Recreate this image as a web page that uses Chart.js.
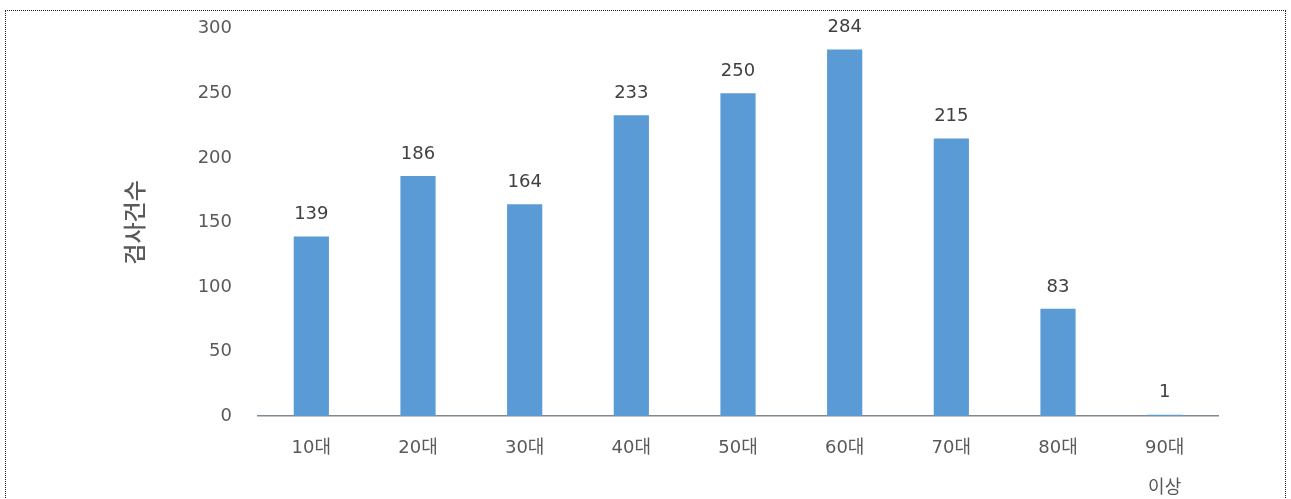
<!DOCTYPE html>
<html>
<head>
<meta charset="utf-8">
<script src="https://cdn.jsdelivr.net/npm/chart.js@4"></script>
<style>
  html, body { margin: 0; padding: 0; background: #fff; }
  #wrap { position: relative; width: 1291px; height: 499px; overflow: hidden; }
  #frame { position: absolute; left: 5px; top: 10px; width: 1281px; height: 520px; border: 1px dotted #222; box-sizing: border-box; }
  #chart { position: absolute; left: 0; top: 0; }
</style>
</head>
<body>
<div id="wrap">
  <div id="frame"></div>
  <canvas id="chart" width="1291" height="499"></canvas>
</div>
<script>
// Data
const ageGroups = ['10대', '20대', '30대', '40대', '50대', '60대', '70대', '80대', ['90대', '이상']];
const testCounts = [139, 186, 164, 233, 250, 284, 215, 83, 1];
const yTicks = [0, 50, 100, 150, 200, 250, 300];

const fontFamily = "'DejaVu Sans', 'Noto Sans CJK KR', sans-serif";

// draws the value above each bar
const barValueLabels = {
    id: 'barValueLabels',
    afterDatasetsDraw(chart) {
        const ctx = chart.ctx;
        const meta = chart.getDatasetMeta(0);
        ctx.save();
        ctx.font = '18px ' + fontFamily;
        ctx.fillStyle = '#404040';
        ctx.textAlign = 'center';
        ctx.textBaseline = 'middle';
        meta.data.forEach((bar, i) => {
            ctx.fillText(String(testCounts[i]), bar.x, bar.y - 22);
        });
        ctx.restore();
    }
};

const ctx = document.getElementById('chart').getContext('2d');
const countChart = new Chart(ctx, {
    type: 'bar',
    data: {
        labels: ageGroups,
        datasets: [{
            label: '검사건수',
            data: testCounts,
            backgroundColor: '#5B9BD5',
            borderWidth: 0,
            barPercentage: 0.33,
            categoryPercentage: 1
        }]
    },
    options: {
        responsive: false,
        animation: false,
        layout: {
            padding: { top: 20, left: 0, right: 73, bottom: 0 }
        },
        plugins: {
            legend: { display: false },
            tooltip: { enabled: false }
        },
        scales: {
            x: {
                grid: { display: false },
                border: { display: true, color: '#7f8a94', width: 1.5 },
                ticks: {
                    color: '#595959',
                    padding: 5,
                    maxRotation: 0,
                    autoSkip: false,
                    font: { family: fontFamily, size: 18, lineHeight: 2.2 }
                },
                afterFit(scale) { scale.height = 83; }
            },
            y: {
                min: 0,
                max: 300,
                afterBuildTicks(scale) {
                    scale.ticks = yTicks.map(v => ({ value: v }));
                },
                grid: { display: false },
                border: { display: false },
                ticks: {
                    color: '#595959',
                    padding: 18,
                    font: { family: fontFamily, size: 18 }
                },
                title: {
                    display: true,
                    text: '검사건수',
                    color: '#595959',
                    padding: { top: 120, bottom: 0 },
                    font: { family: "'Noto Sans CJK KR', sans-serif", size: 23, weight: '500', lineHeight: 1.2 }
                },
                afterFit(scale) { scale.width = 258; }
            }
        }
    },
    plugins: [barValueLabels]
});
</script>
</body>
</html>
